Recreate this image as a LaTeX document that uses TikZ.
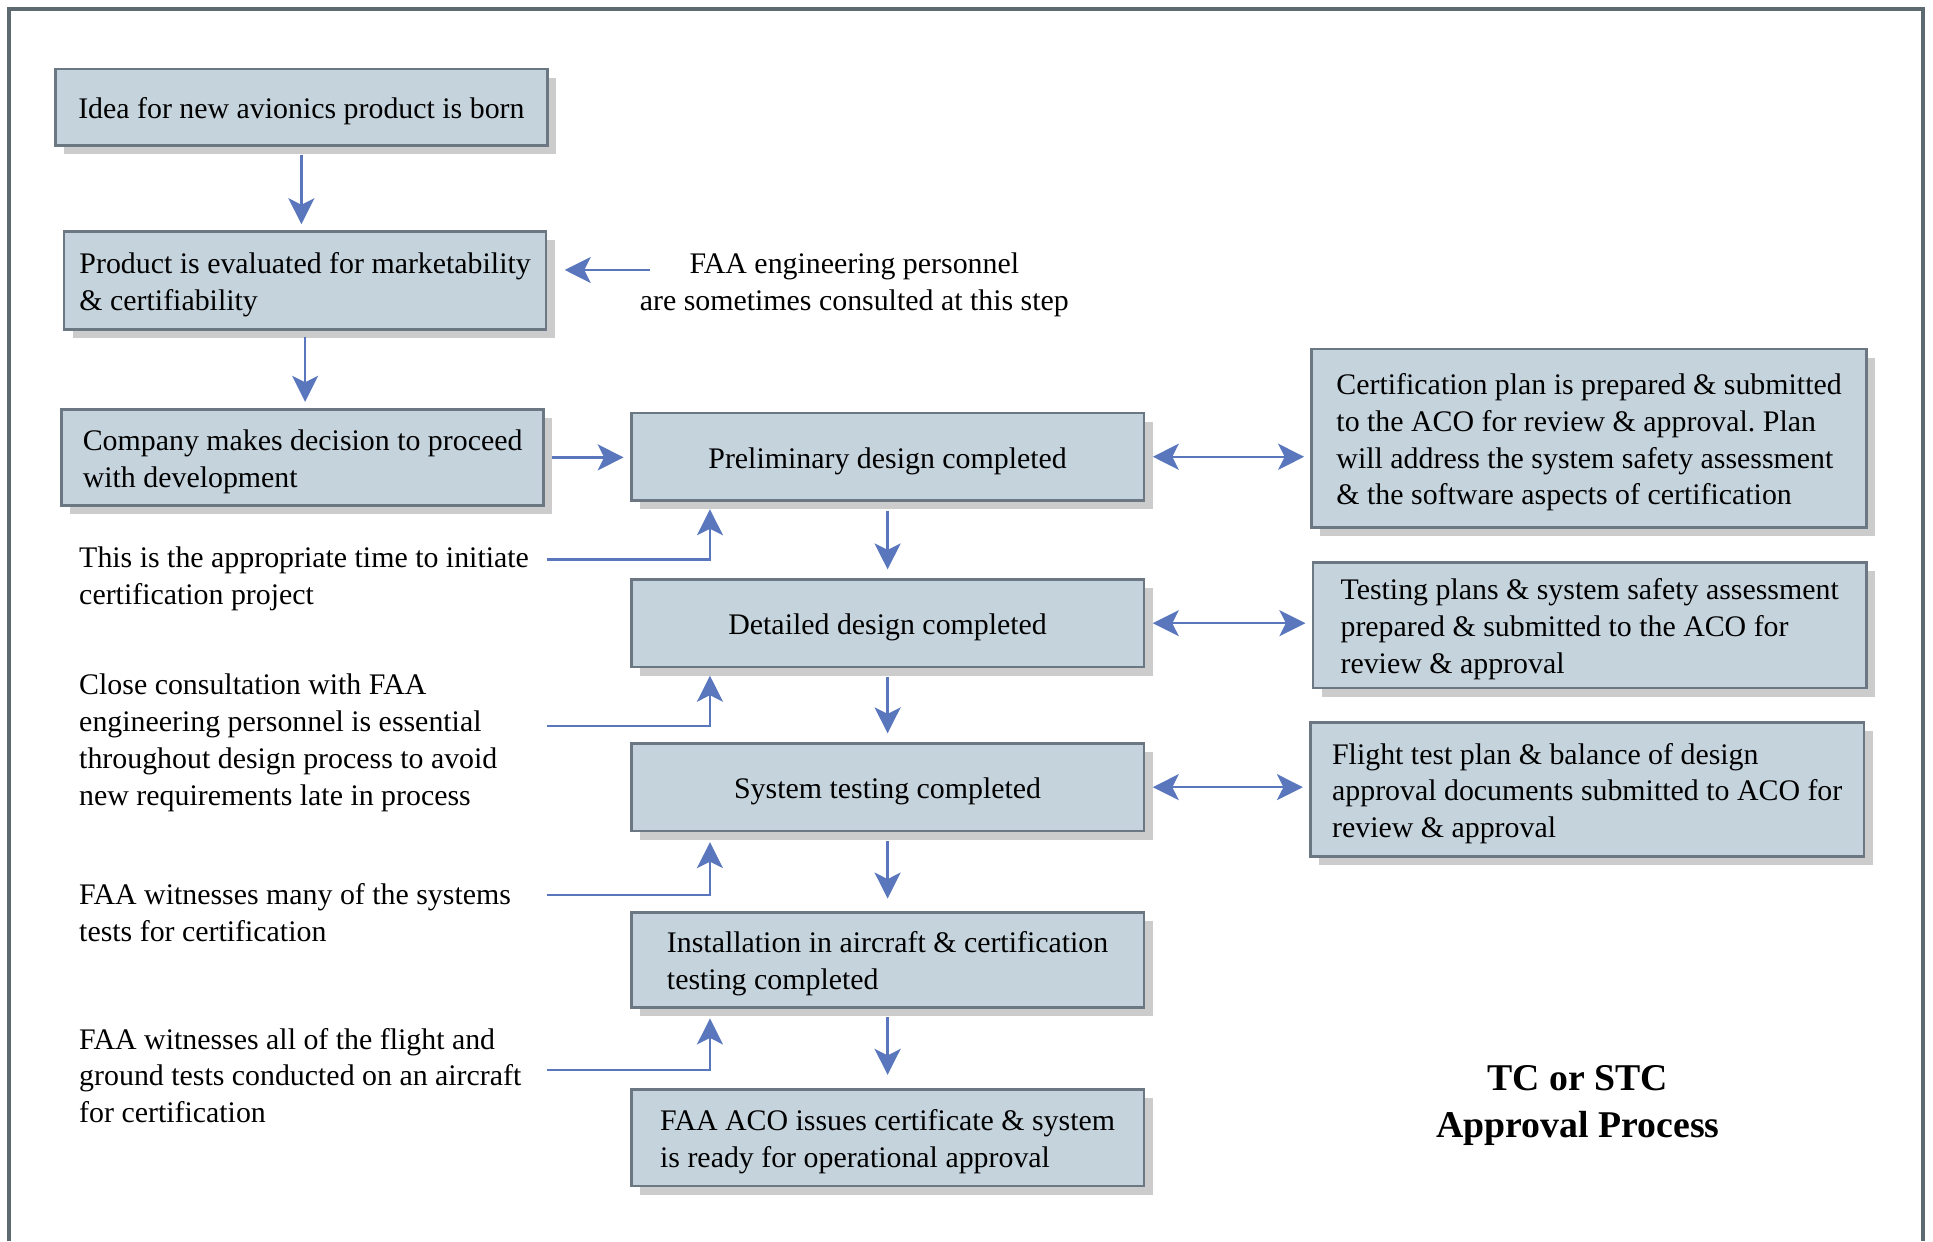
\documentclass[tikz,border=0pt]{standalone}
\usepackage{fontspec}
\setmainfont{Liberation Serif}
\usetikzlibrary{arrows.meta,shadows}
\newlength\px
\setlength\px{0.02466cm}
\definecolor{cajafondo}{HTML}{C5D3DD}
\definecolor{cajaborde}{HTML}{6B7884}
\definecolor{flecha}{HTML}{5A77BD}
\definecolor{marco}{HTML}{5E6A72}
\tikzset{punta/.tip={Stealth[length=0.52cm,width=0.52cm,inset=0.13cm]}}
\newcommand\subetexto{\rule{0pt}{16.5pt}} % baja el texto un poco
\frenchspacing

\begin{document}
\begin{tikzpicture}[x=1\px, y=-1\px, % unidades en pixeles, y hacia abajo
    caja/.style={draw=cajaborde, fill=cajafondo, line width=2.2\px, inner sep=0pt,
      drop shadow={shadow xshift=7\px, shadow yshift=-7\px, fill=black!20, opacity=1},
      font=\fontsize{17}{21}\selectfont, align=left},
    nota/.style={font=\fontsize{17}{21}\selectfont, align=left, inner sep=0pt, anchor=west},
    flujo/.style={draw=flecha, line width=2\px, -punta},
    doble/.style={draw=flecha, line width=2\px, punta-punta}]
    \useasboundingbox (0,0) rectangle (1568,1007);
    \draw[marco, line width=3.2\px] (7,1007) -- (7,7) -- (1560,7) -- (1560,1007); % Marco
    % Columna izquierda
    \node[caja, minimum width=399\px, minimum height=62\px, align=center] (idea) at (244.5,87)
      {\subetexto Idea for new avionics product is born};
    \node[caja, minimum width=391\px, minimum height=79\px] (eval) at (247.5,227.5)
      {\subetexto Product is evaluated for marketability\\\& certifiability};
    \node[caja, minimum width=391\px, minimum height=78\px] (decide) at (245.5,371)
      {\subetexto Company makes decision to proceed\\with development};
    % Columna central
    \node[caja, minimum width=416\px, minimum height=71\px, align=center] (prelim) at (720,370.5)
      {\subetexto Preliminary design completed};
    \node[caja, minimum width=416\px, minimum height=71\px, align=center] (detail) at (720,505.5)
      {\subetexto Detailed design completed};
    \node[caja, minimum width=416\px, minimum height=71\px, align=center] (systest) at (720,638.5)
      {\subetexto System testing completed};
    \node[caja, minimum width=416\px, minimum height=77\px] (install) at (720,778.5)
      {\subetexto Installation in aircraft \& certification\\testing completed};
    \node[caja, minimum width=416\px, minimum height=78\px] (issue) at (720,923)
      {\subetexto FAA ACO issues certificate \& system\\is ready for operational approval};
    % Columna derecha
    \node[caja, minimum width=450\px, minimum height=145\px] (certplan) at (1289,355.5)
      {\subetexto Certification plan is prepared \& submitted\\to the ACO for review \& approval. Plan\\will address the system safety assessment\\\& the software aspects of certification};
    \node[caja, minimum width=449\px, minimum height=102\px] (testplan) at (1289.5,507)
      {\subetexto Testing plans \& system safety assessment\\prepared \& submitted to the ACO for\\review \& approval};
    \node[caja, minimum width=449\px, minimum height=109\px] (flightplan) at (1287.5,640.5)
      {\subetexto Flight test plan \& balance of design\\approval documents submitted to ACO for\\review \& approval};
    % Notas
    \node[nota, anchor=center, align=center] (faanote) at (693,231)
      {FAA engineering personnel\\are sometimes consulted at this step};
    \node[nota] (nota1) at (64,469.5) {This is the appropriate time to initiate\\certification project};
    \node[nota] (nota2) at (64,602.5) {Close consultation with FAA\\engineering personnel is essential\\throughout design process to avoid\\new requirements late in process};
    \node[nota] (nota3) at (64,740.5) {FAA witnesses many of the systems\\tests for certification};
    \node[nota] (nota4) at (64,872.5) {FAA witnesses all of the flight and\\ground tests conducted on an aircraft\\for certification};
    \node[font=\fontsize{21.5}{26.6}\selectfont\bfseries, align=center] (titulo) at (1280,897)
      {TC or STC\\Approval Process};
    % Flechas
    \draw[flujo, shorten <=7\px, shorten >=5\px] (idea.south) -- (idea.south |- eval.north);
    \draw[flujo, shorten <=5\px, shorten >=5\px] (eval.south) -- (eval.south |- decide.north);
    \coordinate (faa) at (527,219);
    \draw[flujo, shorten >=14\px] (faa) -- (faa -| eval.east);
    \draw[flujo, shorten <=6\px, shorten >=5\px] (decide.east) -- (decide.east -| prelim.west);
    \draw[flujo, shorten <=7\px, shorten >=7\px] (prelim) -- (detail);
    \draw[flujo, shorten <=7\px, shorten >=7\px] (detail) -- (systest);
    \draw[flujo, shorten <=7\px, shorten >=10\px] (systest) -- (install);
    \draw[flujo, shorten <=7\px, shorten >=11\px] (install) -- (issue);
    \draw[doble, shorten <=6\px, shorten >=5\px] (prelim.east) -- (prelim.east -| certplan.west);
    \draw[doble, shorten <=6\px, shorten >=5\px] (detail.east) -- (detail.east -| testplan.west);
    \draw[doble, shorten <=6\px, shorten >=5\px] (systest.east) -- (systest.east -| flightplan.west);
    % Notas hacia las cajas
    \coordinate (n1) at (444,454);
    \coordinate (n2) at (444,589);
    \coordinate (n3) at (444,726);
    \coordinate (n4) at (444,868);
    \draw[flujo, shorten >=6\px] (n1) -| ([xshift=65\px]prelim.south west);
    \draw[flujo, shorten >=6\px] (n2) -| ([xshift=65\px]detail.south west);
    \draw[flujo, shorten >=8\px] (n3) -| ([xshift=65\px]systest.south west);
    \draw[flujo, shorten >=8\px] (n4) -| ([xshift=65\px]install.south west);
\end{tikzpicture}
\end{document}
